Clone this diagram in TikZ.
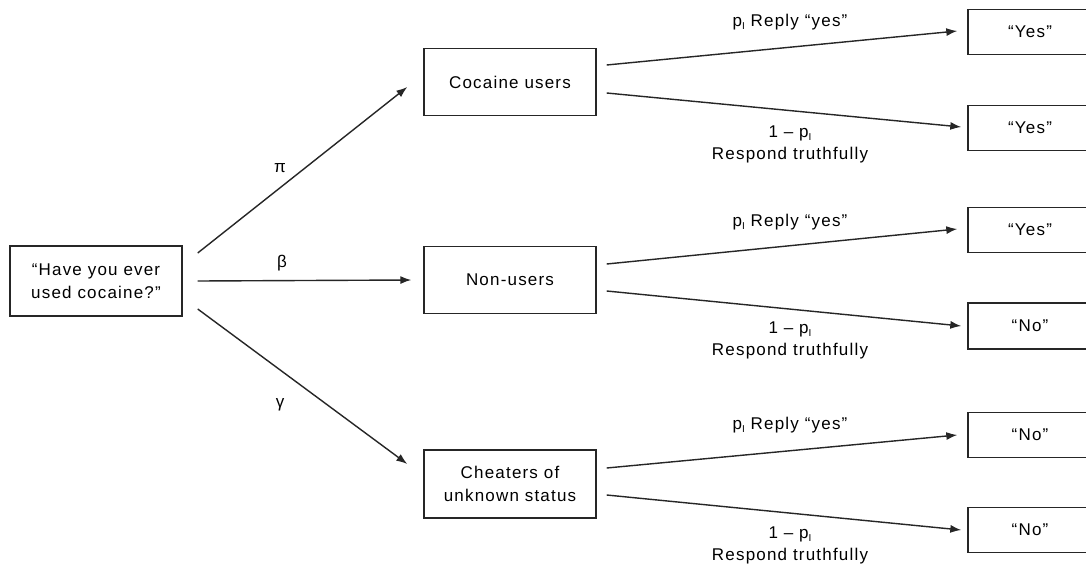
\documentclass[tikz,border=0pt]{standalone}
\usepackage{fontspec}
\setmainfont{Liberation Sans}[LetterSpace=7]
\usetikzlibrary{arrows.meta,calc}
\newcommand{\pI}{p\raisebox{-0.35ex}{\fontsize{10}{10}\selectfont I}}
\begin{document}
\begin{tikzpicture}[x=1pt,y=-1pt,
  box/.style={draw=black!85,line width=1.4pt,align=center,inner sep=0pt,
    font=\fontsize{17}{23}\selectfont},
  midbox/.style={box,minimum width=172pt,minimum height=67pt},
  endbox/.style={box,minimum width=150pt,minimum height=45pt},
  arr/.style={line width=1.4pt,draw=black!85,-{Latex[length=11pt,width=8pt]}},
  lab/.style={font=\fontsize{17}{22}\selectfont,align=center,inner sep=0pt}]
\useasboundingbox (0,0) rectangle (1086,570);
\fill[white] (0,0) rectangle (1086,570);
% nodes
\node[box,minimum width=172pt,minimum height=70pt] (q) at (96,281) {“Have you ever\\used cocaine?”};
\node[midbox] (cu) at (510,82) {Cocaine users};
\node[midbox] (nu) at (510,280) {Non-users};
\node[midbox,minimum height=68pt] (ch) at (510,484) {Cheaters of\\unknown status};
\node[endbox] (y1) at (1043,32) {};
\node[endbox] (y2) at (1043,128) {};
\node[endbox] (y3) at (1043,230) {};
\node[endbox,minimum height=46pt] (n1) at (1043,326) {};
\node[endbox] (n2) at (1043,435) {};
\node[endbox] (n3) at (1043,530) {};
\node[lab] (t1) at (1030,32) {“Yes”};
\node[lab] (t2) at (1030,128) {“Yes”};
\node[lab] (t3) at (1030,230) {“Yes”};
\node[lab] (t4) at (1030,326) {“No”};
\node[lab] (t5) at (1030,435) {“No”};
\node[lab] (t6) at (1030,530) {“No”};
% first-level connectors
\draw[arr] ([shift={(15,-28)}]q.east) -- ([shift={(-16,5)}]cu.west);
\draw[arr] ([shift={(15,0)}]q.east) -- ([shift={(-12,0)}]nu.west);
\draw[arr] ([shift={(15,28)}]q.east) -- ([shift={(-16,-20)}]ch.west);
\node[lab] (lpi) at (280,168) {π};
\node[lab] (lbeta) at (282,263) {β};
\node[lab] (lgam) at (280,405) {γ};
% second-level connectors
\draw[arr] ([shift={(10,-17)}]cu.east) -- ([shift={(-10,-1)}]y1.west);
\draw[arr] ([shift={(10,11)}]cu.east) -- ([shift={(-6,-1)}]y2.west);
\draw[arr] ([shift={(10,-16)}]nu.east) -- ([shift={(-10,-1)}]y3.west);
\draw[arr] ([shift={(10,11)}]nu.east) -- ([shift={(-6,0)}]n1.west);
\draw[arr] ([shift={(10,-16)}]ch.east) -- ([shift={(-10,0)}]n2.west);
\draw[arr] ([shift={(10,11)}]ch.east) -- ([shift={(-6,0)}]n3.west);
% branch labels
\node[lab] (a1) at (790,22) {\pI\ Reply “yes”};
\node[lab] (b1) at (790,144) {1 -- \pI\\Respond truthfully};
\node[lab] (a2) at (790,222) {\pI\ Reply “yes”};
\node[lab] (b2) at (790,340) {1 -- \pI\\Respond truthfully};
\node[lab] (a3) at (790,425) {\pI\ Reply “yes”};
\node[lab] (b3) at (790,545) {1 -- \pI\\Respond truthfully};
\end{tikzpicture}
\end{document}
